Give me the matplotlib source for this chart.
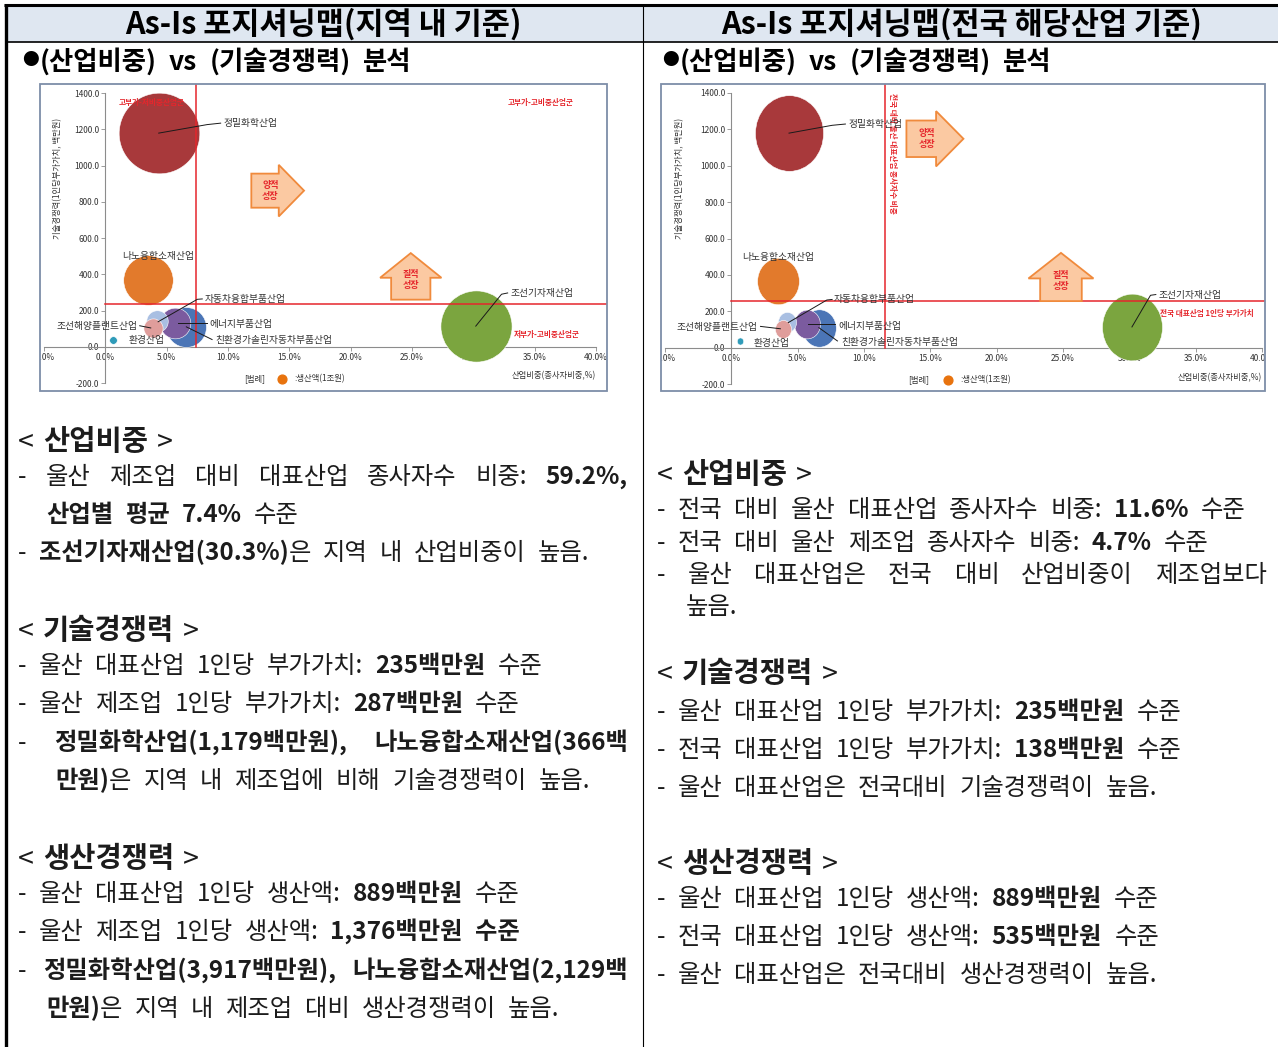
import numpy as np
import matplotlib.pyplot as plt
from matplotlib.path import Path
from matplotlib.transforms import Affine2D
from matplotlib.patches import Rectangle, Polygon
from matplotlib.lines import Line2D

plt.rcParams['font.family'] = ['Noto Sans CJK KR', 'DejaVu Sans']

W, H = 1278, 1047

# ---- bubble data ----
industries = ['정밀화학산업', '나노융합소재산업', '자동차융합부품산업', '조선해양플랜트산업',
              '에너지부품산업', '친환경가솔린자동차부품산업', '환경산업', '조선기자재산업']
emp_share = [4.35, 3.5, 4.2, 3.9, 5.7, 6.6, 0.65, 30.2]     # 산업비중(종사자비중, %)
value_added = [1179, 366, 140, 105, 130, 110, 37, 114]      # 1인당 부가가치(백만원)
output = [9.0, 3.4, 0.64, 0.51, 1.3, 2.2, 0.08, 7.0]         # 생산액(조원)
bubble_colors = ['#a8393b', '#e27a2c', '#a9bfe2', '#df9d9b',
                 '#7b5b9f', '#4b75b6', '#2f9bb9', '#7ba53f']

# reference lines
local_share_avg, local_value_avg = 7.4, 235
nat_share_avg, nat_value_avg = 11.6, 258

x_ticks = [-5, 0, 5, 10, 15, 20, 25, 30, 35, 40]
y_ticks = [-200, 0, 200, 400, 600, 800, 1000, 1200, 1400]

fig = plt.figure(figsize=(W / 100, H / 100), dpi=100)
fig.patch.set_facecolor('white')
renderer = fig.canvas.get_renderer()


def fx(x):
    return x / W


def fy(y):
    return 1 - y / H


def fig_line(x0, y0, x1, y1, lw, color='black'):
    fig.add_artist(Line2D([fx(x0), fx(x1)], [fy(y0), fy(y1)], transform=fig.transFigure,
                          color=color, lw=lw, solid_capstyle='butt'))


# ---- table frame ----
fig.add_artist(Rectangle((fx(6), fy(42)), fx(1278 - 6), 36 / H, transform=fig.transFigure,
                         fc='#dfe7f1', ec='none'))
fig_line(4, 5, 1278, 5, 2.2)
fig_line(6, 4, 6, 1047, 2.4)
fig_line(6, 42, 1278, 42, 1.2)
fig_line(643, 5, 643, 1047, 0.8)

fig.text(fx(323), fy(24), 'As-Is 포지셔닝맵(지역 내 기준)', fontsize=22, fontweight='bold',
         ha='center', va='center')
fig.text(fx(962), fy(24), 'As-Is 포지셔닝맵(전국 해당산업 기준)', fontsize=22, fontweight='bold',
         ha='center', va='center')


# ---- word-by-word text layout (mixed bold runs, wide word gaps) ----
def split_words(runs):
    words, cur = [], []
    for text, bold in runs:
        for i, part in enumerate(text.split(' ')):
            if i > 0 and cur:
                words.append(cur)
                cur = []
            if part:
                cur.append((part, bold))
    if cur:
        words.append(cur)
    return words


def put_line(x, yc, runs, size=17.5, gap=12, right=None, color='#1c1c1c'):
    words = split_words(runs)
    placed, widths = [], []
    for w in words:
        segs, total = [], 0
        for txt, bold in w:
            t = fig.text(0, 0, txt, fontsize=size, color=color,
                         fontweight='bold' if bold else 'normal', ha='left', va='baseline')
            bw = t.get_window_extent(renderer).width
            segs.append((t, bw))
            total += bw
        placed.append(segs)
        widths.append(total)
    if right is not None and len(words) > 1:
        gap = (right - x - sum(widths)) / (len(words) - 1)
    base = yc + 0.36 * size * 100 / 72
    xp = x
    for segs in placed:
        for t, bw in segs:
            t.set_position((fx(xp), fy(base)))
            xp += bw
        xp += gap


def heading(x, yc, title):
    put_line(x, yc, [('< ', False), (title, True), (' >', False)], size=20.5, gap=9)


def subtitle(x, yc):
    fig.text(fx(x), fy(yc), '●', fontsize=12, ha='left', va='center', color='black')
    put_line(x + 18, yc, [('(산업비중) vs (기술경쟁력) 분석', True)], size=19, gap=12, color='black')


N, B = False, True

subtitle(22, 60)
subtitle(662, 60)

# left column
heading(18, 440, '산업비중')
put_line(18, 475, [('- 울산 제조업 대비 대표산업 종사자수 비중: ', N), ('59.2%,', B)], right=628)
put_line(46, 513, [('산업별 평균 7.4%', B), (' 수준', N)])
put_line(18, 551, [('- ', N), ('조선기자재산업(30.3%)', B), ('은 지역 내 산업비중이 높음.', N)])
heading(18, 629, '기술경쟁력')
put_line(18, 664, [('- 울산 대표산업 1인당 부가가치: ', N), ('235백만원', B), (' 수준', N)])
put_line(18, 702, [('- 울산 제조업 1인당 부가가치: ', N), ('287백만원', B), (' 수준', N)])
put_line(18, 741, [('- ', N), ('정밀화학산업(1,179백만원), 나노융합소재산업(366백', B)], right=628)
put_line(55, 779, [('만원)', B), ('은 지역 내 제조업에 비해 기술경쟁력이 높음.', N)])
heading(18, 857, '생산경쟁력')
put_line(18, 892, [('- 울산 대표산업 1인당 생산액: ', N), ('889백만원', B), (' 수준', N)])
put_line(18, 930, [('- 울산 제조업 1인당 생산액: ', N), ('1,376백만원 수준', B)])
put_line(18, 969, [('- ', N), ('정밀화학산업(3,917백만원), 나노융합소재산업(2,129백', B)], right=628)
put_line(46, 1007, [('만원)', B), ('은 지역 내 제조업 대비 생산경쟁력이 높음.', N)])

# right column
heading(657, 473, '산업비중')
put_line(657, 508, [('- 전국 대비 울산 대표산업 종사자수 비중: ', N), ('11.6%', B), (' 수준', N)])
put_line(657, 541, [('- 전국 대비 울산 제조업 종사자수 비중: ', N), ('4.7%', B), (' 수준', N)])
put_line(657, 573, [('- 울산 대표산업은 전국 대비 산업비중이 제조업보다', N)], right=1267)
put_line(686, 605, [('높음.', N)])
heading(657, 672, '기술경쟁력')
put_line(657, 710, [('- 울산 대표산업 1인당 부가가치: ', N), ('235백만원', B), (' 수준', N)])
put_line(657, 748, [('- 전국 대표산업 1인당 부가가치: ', N), ('138백만원', B), (' 수준', N)])
put_line(657, 786, [('- 울산 대표산업은 전국대비 기술경쟁력이 높음.', N)])
heading(657, 862, '생산경쟁력')
put_line(657, 897, [('- 울산 대표산업 1인당 생산액: ', N), ('889백만원', B), (' 수준', N)])
put_line(657, 935, [('- 전국 대표산업 1인당 생산액: ', N), ('535백만원', B), (' 수준', N)])
put_line(657, 973, [('- 울산 대표산업은 전국대비 생산경쟁력이 높음.', N)])


# ---- bubble charts ----
RED = '#e5262c'
TXT = '#333333'


def block_arrow(ax, x0, x1, y0, y1, up=False):
    if up:
        xm = (x0 + x1) / 2
        sw = 0.32 * (x1 - x0)
        yh = y0 + 0.47 * (y1 - y0)
        verts = [(xm - sw, y0), (xm + sw, y0), (xm + sw, yh), (x1, yh), (xm, y1),
                 (x0, yh), (xm - sw, yh)]
    else:
        ym = (y0 + y1) / 2
        sh = 0.33 * (y1 - y0)
        xh = x0 + 0.52 * (x1 - x0)
        verts = [(x0, ym - sh), (xh, ym - sh), (xh, y0), (x1, ym), (xh, y1),
                 (xh, ym + sh), (x0, ym + sh)]
    ax.add_patch(Polygon(verts, closed=True, fc='#fbc9a2', ec='#f08a3c', lw=1.3, zorder=5))


def make_chart(box, xlim, ylim, marker, size_k, vline, hline, notes, arrows, legend_x, xtitle_y):
    x0, y0, x1, y1 = box
    ax = fig.add_axes([fx(x0), fy(y1), (x1 - x0) / W, (y1 - y0) / H])
    ax.set_xlim(xlim)
    ax.set_ylim(ylim)
    ax.set_facecolor('white')
    for s in ('top', 'right'):
        ax.spines[s].set_visible(False)
    ax.spines['left'].set_position(('data', 0))
    ax.spines['bottom'].set_position(('data', 0))
    ax.spines['left'].set_bounds(-200, 1400)
    ax.spines['bottom'].set_bounds(-5, 40)
    for s in ('left', 'bottom'):
        ax.spines[s].set_color('#8c8c8c')
        ax.spines[s].set_linewidth(0.8)
    ax.set_xticks(x_ticks)
    ax.set_xticklabels([f'{v:.1f}%' for v in x_ticks])
    ax.set_yticks(y_ticks)
    ax.set_yticklabels([f'{v:.1f}' for v in y_ticks])
    ax.tick_params(labelsize=6, colors='#8c8c8c', labelcolor=TXT, length=3, width=0.6, pad=1.5)
    for t in ax.xaxis.get_major_ticks():
        t.label1.set_clip_on(True)
        t.label1.set_clip_box(ax.bbox)

    ax.add_patch(Rectangle((0, 0), 1, 1, transform=ax.transAxes, fill=False,
                           ec='#7d8ea8', lw=1.3, clip_on=False, zorder=20))

    order = [0, 1, 7, 5, 4, 2, 3, 6]
    for i in order:
        ax.scatter(emp_share[i], value_added[i], s=size_k * output[i], marker=marker,
                   color=bubble_colors[i], edgecolors='white', linewidths=0.4, zorder=3)

    ax.plot([vline, vline], [0, ylim[1]], color=RED, lw=1.1, zorder=4)
    ax.plot([0, xlim[1]], [hline, hline], color=RED, lw=1.1, zorder=4)

    for (ax0, ax1, ay0, ay1, up, label) in arrows:
        block_arrow(ax, ax0, ax1, ay0, ay1, up)
        if up:
            tx, ty = (ax0 + ax1) / 2, ay0 + 0.42 * (ay1 - ay0)
        else:
            tx, ty = ax0 + 0.36 * (ax1 - ax0), (ay0 + ay1) / 2
        ax.text(tx, ty, label, color=RED, fontsize=6.5, fontweight='bold', ha='center',
                va='center', linespacing=1.3, zorder=6)

    for label, tx, ty, ha, lead in notes:
        ax.text(tx, ty, label, fontsize=7, color=TXT, ha=ha, va='center', zorder=7)
        if lead:
            ax.plot([p[0] for p in lead], [p[1] for p in lead], color='#1a1a1a', lw=0.7, zorder=6)

    ax.text(-3.9, 930, '기술경쟁력(1인당부가가치, 백만원)', rotation=90, fontsize=6, color=TXT,
            ha='center', va='center')
    ax.text(40, xtitle_y, '산업비중(종사자비중,%)', fontsize=6, color=TXT, ha='right', va='center')
    ax.text(legend_x, -178, '[범례]', fontsize=6, color=TXT, ha='center', va='center')
    ax.scatter(legend_x + 2.2, -178, s=40, color='#e8730e', zorder=5)
    ax.text(legend_x + 3.2, -178, ':생산액(1조원)', fontsize=6, color=TXT, ha='left', va='center')
    return ax


# chart 1: 지역 내 기준
notes1 = [
    ('정밀화학산업', 9.6, 1233, 'left', [(4.35, 1179), (8.3, 1226), (9.4, 1234)]),
    ('나노융합소재산업', 1.4, 503, 'left', None),
    ('자동차융합부품산업', 8.1, 264, 'left', [(4.3, 138), (7.5, 262), (7.9, 264)]),
    ('조선해양플랜트산업', 2.6, 114, 'right', [(2.8, 116), (3.7, 104)]),
    ('에너지부품산업', 8.5, 128, 'left', [(5.9, 130), (8.3, 130)]),
    ('친환경가솔린자동차부품산업', 9.0, 37, 'left', [(6.6, 110), (8.7, 40)]),
    ('환경산업', 1.9, 35, 'left', None),
    ('조선기자재산업', 33.0, 297, 'left', [(30.2, 114), (32.3, 290), (32.8, 297)]),
]
arrows1 = [(11.9, 16.2, 719, 1004, False, '양적\n성장'),
           (22.4, 27.4, 260, 517, True, '질적\n성장')]
ax1 = make_chart((40, 84, 607, 391), (-5.33, 40.9), (-244, 1450), 'o', 375,
                 local_share_avg, local_value_avg, notes1, arrows1, 12.2, -160)
ax1.text(3.8, 1347, '고부가-저비중산업군', fontsize=5.5, color=RED, fontweight='bold',
         ha='center', va='center')
ax1.text(35.5, 1347, '고부가-고비중산업군', fontsize=5.5, color=RED, fontweight='bold',
         ha='center', va='center')
ax1.text(36.0, 68, '저부가-고비중산업군', fontsize=5.5, color=RED, fontweight='bold',
         ha='center', va='center')

# chart 2: 전국 해당산업 기준 (bubbles drawn slightly taller than wide)
ellipse = Path.unit_circle().transformed(Affine2D().scale(0.9, 1.0))
notes2 = [
    ('정밀화학산업', 8.8, 1229, 'left', [(4.35, 1179), (7.6, 1222), (8.6, 1229)]),
    ('나노융합소재산업', 0.8, 497, 'left', None),
    ('자동차융합부품산업', 7.75, 265, 'left', [(4.3, 138), (7.2, 262), (7.6, 265)]),
    ('조선해양플랜트산업', 2.0, 115, 'right', [(2.2, 117), (3.7, 104)]),
    ('에너지부품산업', 8.05, 119, 'left', [(5.8, 128), (7.8, 128)]),
    ('친환경가솔린자동차부품산업', 8.3, 33, 'left', [(6.6, 110), (8.0, 37)]),
    ('환경산업', 1.7, 27, 'left', None),
    ('조선기자재산업', 32.2, 292, 'left', [(30.2, 114), (31.6, 288), (32.0, 292)]),
]
arrows2 = [(13.2, 17.5, 996, 1300, False, '양적\n성장'),
           (22.4, 27.3, 256, 521, True, '질적\n성장')]
ax2 = make_chart((661, 84, 1265, 391), (-5.3, 40.23), (-238, 1449), ellipse, 330,
                 nat_share_avg, nat_value_avg, notes2, arrows2, 14.1, -165)
ax2.text(32.3, 186, '전국 대표산업 1인당 부가가치', fontsize=5.5, color=RED, fontweight='bold',
         ha='left', va='center')
ax2.text(12.15, 1400, '전국 대비 울산 대표산업 종사자수 비중', fontsize=5.5, color=RED,
         fontweight='bold', rotation=-90, rotation_mode='anchor', ha='left', va='center')

fig.savefig('out.png', dpi=100, facecolor='white')
